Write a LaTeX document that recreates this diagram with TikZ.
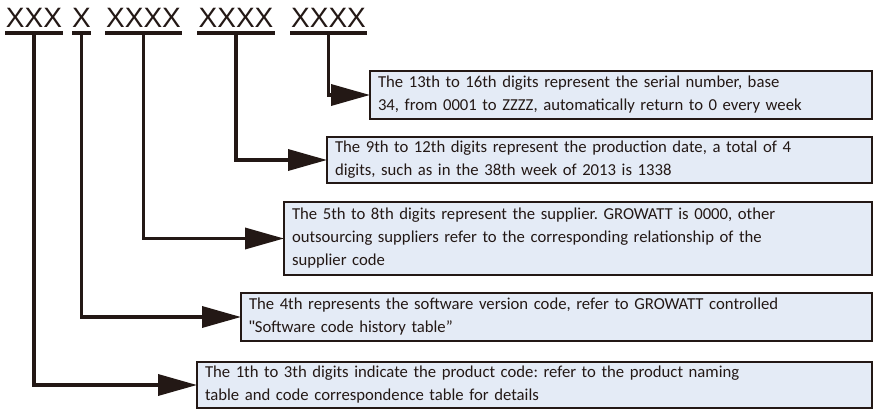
\documentclass[tikz,border=0pt]{standalone}
\usepackage{fontspec}
\setmainfont{Carlito}
\newfontfamily\xfont{Liberation Sans}
\usetikzlibrary{arrows.meta}
\definecolor{ink}{RGB}{35,24,21}
\definecolor{boxfill}{RGB}{228,235,246}
\frenchspacing
\tikzset{
  grp/.style={inner sep=0pt, outer sep=0pt, anchor=north, font=\xfont\fontsize{28}{28}\selectfont,
    text height=20pt, text depth=5pt, text=ink},
  uline/.style={draw=ink, line width=3.5pt},
  desc/.style={draw=ink, line width=2.5pt, fill=boxfill, anchor=north west, align=left,
    inner xsep=8pt, inner ysep=0pt, outer sep=0pt, text=ink,
    font=\fontsize{16.7}{23}\selectfont},
  conn/.style={draw=ink, line width=3.5pt, -{Triangle[length=39pt,width=21pt]}}
}
\begin{document}
\begin{tikzpicture}[x=1pt,y=-1pt]
\useasboundingbox (0,0) rectangle (874,409);
% title groups
\node[grp, minimum width=58pt] (g1) at (34,8) {XXX};
\node[grp, minimum width=17pt] (g2) at (81.5,8) {X};
\node[grp, minimum width=77pt] (g3) at (143.5,8) {XXXX};
\node[grp, minimum width=78pt] (g4) at (236,8) {XXXX};
\node[grp, minimum width=77pt] (g5) at (328.5,8) {XXXX};
\foreach \g in {g1,g2,g3,g4,g5}{
  \draw[uline] (\g.south west) -- (\g.south east);
}
% description boxes
\node[desc, minimum width=502pt, minimum height=48pt, text width=486pt] (b1) at (370,71)
  {The 13th to 16th digits represent the serial number, base\\34, from 0001 to ZZZZ, automatically return to 0 every week};
\node[desc, minimum width=545pt, minimum height=46pt, text width=529pt] (b2) at (327,137)
  {The 9th to 12th digits represent the production date, a total of 4\\digits, such as in the 38th week of 2013 is 1338};
\node[desc, minimum width=588pt, minimum height=73pt, text width=572pt] (b3) at (284,202)
  {The 5th to 8th digits represent the supplier. GROWATT is 0000, other\\outsourcing suppliers refer to the corresponding relationship of the\\supplier code};
\node[desc, minimum width=631pt, minimum height=48pt, text width=615pt] (b4) at (241,293)
  {The 4th represents the software version code, refer to GROWATT controlled\\{\xfont\symbol{34}}Software code history table''};
\node[desc, minimum width=675pt, minimum height=46pt, text width=659pt] (b5) at (197,362)
  {The 1th to 3th digits indicate the product code: refer to the product naming\\table and code correspondence table for details};
% connectors
\draw[conn] (g5.south) |- (b1.west);
\draw[conn] (g4.south) |- (b2.west);
\draw[conn] (g3.south) |- (b3.west);
\draw[conn] (g2.south) |- (b4.west);
\draw[conn] (g1.south) |- (b5.west);
\end{tikzpicture}
\end{document}
